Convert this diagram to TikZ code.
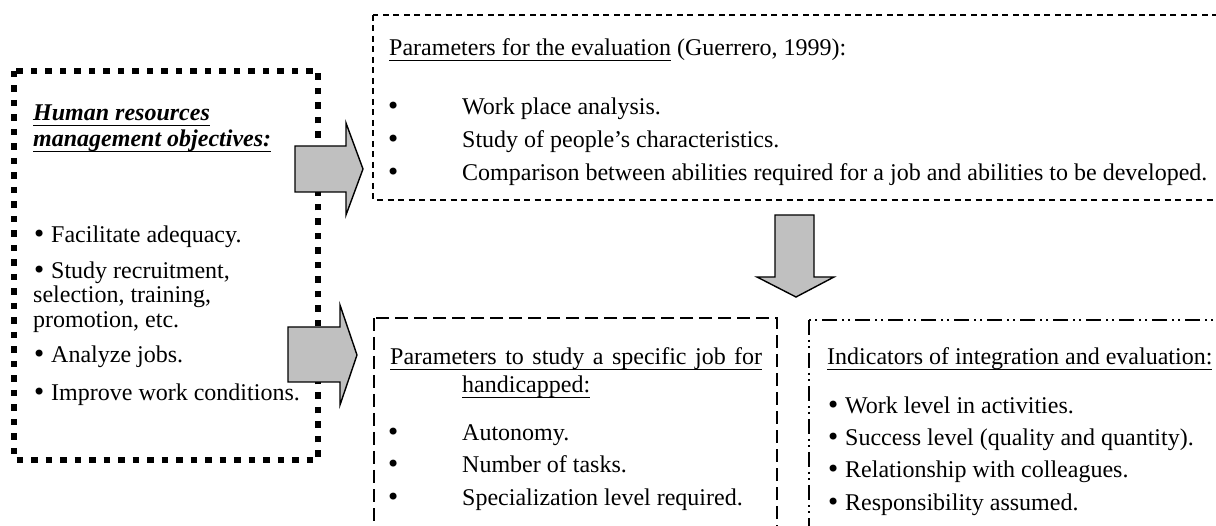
\documentclass[tikz,border=0pt]{standalone}
\usepackage{fontspec}
\setmainfont{Liberation Serif}
\newfontfamily\bulfont{DejaVu Sans}
\usetikzlibrary{calc}

\definecolor{arrowgray}{RGB}{192,192,192}

% underline at a fixed depth below the baseline
\newcommand{\undl}[1]{\setbox0\hbox{#1}\rlap{\rule[-5.5pt]{\wd0}{1.3pt}}\box0\relax}
% a larger bullet
\newcommand{\bul}{\makebox[11pt][l]{\hspace*{-2pt}{\bulfont\textbullet}}}

\begin{document}
\begin{tikzpicture}[x=1pt, y=-1pt, line join=miter,
	txt/.style={anchor=base west, inner sep=0pt, font=\fontsize{24}{28}\selectfont},
	objbox/.style={line width=6pt, dash pattern=on 6.5pt off 8pt},
	evalbox/.style={line width=1.2pt, dash pattern=on 6pt off 4.5pt},
	jobbox/.style={line width=1.5pt, dash pattern=on 13pt off 6pt},
	indbox/.style={line width=1.5pt, dash pattern=on 15pt off 5pt on 2pt off 4pt on 2pt off 5pt},
	blockarrow/.style={draw=black, line width=1.4pt, fill=arrowgray}]
	
	\useasboundingbox (0,0) rectangle (1216,526);
	\clip (0,0) rectangle (1216,526);
	
	% --- frames (the right-hand ones run off the page) ---
	\draw[objbox] (14,71) rectangle (318,460);
	\draw[evalbox] (373,15) rectangle (1230,200);
	\draw[jobbox] (374,318) rectangle (777,540);
	\draw[indbox] (809,320) rectangle (1230,540);
	
	% --- left: objectives ---
	\node[txt] (objhead1) at (33,121) {\bfseries\itshape\undl{Human resources}};
	\node[txt] (objhead2) at (33,147) {\bfseries\itshape\undl{management objectives:}};
	\node[txt] (obj1) at (34,243) {\bul\ Facilitate adequacy.};
	\node[txt] (obj2) at (34,279) {\bul\ Study recruitment,};
	\node[txt] (obj2b) at (33,303) {selection, training,};
	\node[txt] (obj2c) at (33,328) {promotion, etc.};
	\node[txt] (obj3) at (34,363) {\bul\ Analyze jobs.};
	\node[txt] (obj4) at (34,401) {\bul\ Improve work conditions.};
	
	% --- top right: evaluation parameters ---
	\node[txt] (evhead) at (389,56) {\undl{Parameters for the evaluation} (Guerrero, 1999):};
	\foreach \y/\t [count=\i] in {115/Work place analysis.,
		148/Study of people's characteristics.,
		181/Comparison between abilities required for a job and abilities to be developed.}{
		\node[txt] (evbul\i) at (388,\y) {\bul};
		\node[txt] (ev\i) at (462,\y) {\t};
	}
	
	% --- bottom middle: job parameters ---
	\node[txt] (jobhead1) at (390,365) {\undl{\makebox[372pt][s]{Parameters to study a specific job for}}};
	\node[txt] (jobhead2) at (462,393) {\undl{handicapped:}};
	\foreach \y/\t [count=\i] in {441/Autonomy., 473/Number of tasks., 505/Specialization level required.}{
		\node[txt] (jobbul\i) at (388,\y) {\bul};
		\node[txt] (job\i) at (462,\y) {\t};
	}
	
	% --- bottom right: indicators ---
	\node[txt] (indhead) at (827,365) {\undl{Indicators of integration and evaluation:}};
	\foreach \y/\t [count=\i] in {414/Work level in activities.,
		446/Success level (quality and quantity).,
		478/Relationship with colleagues.,
		510/Responsibility assumed.}{
		\node[txt] (ind\i) at (828,\y) {\bul\ \t};
	}
	
	% --- block arrows ---
	\filldraw[blockarrow] (295,146) -- (346,146) -- (346,123) -- (363,169) -- (346,215)
	-- (346,192) -- (295,192) -- cycle;
	\filldraw[blockarrow] (288,327) -- (340,327) -- (340,305) -- (357,355) -- (340,405)
	-- (340,382) -- (288,382) -- cycle;
	\filldraw[blockarrow] (775,215) -- (814,215) -- (814,277) -- (834,277) -- (796,297)
	-- (757,277) -- (775,277) -- cycle;
	
\end{tikzpicture}
\end{document}
